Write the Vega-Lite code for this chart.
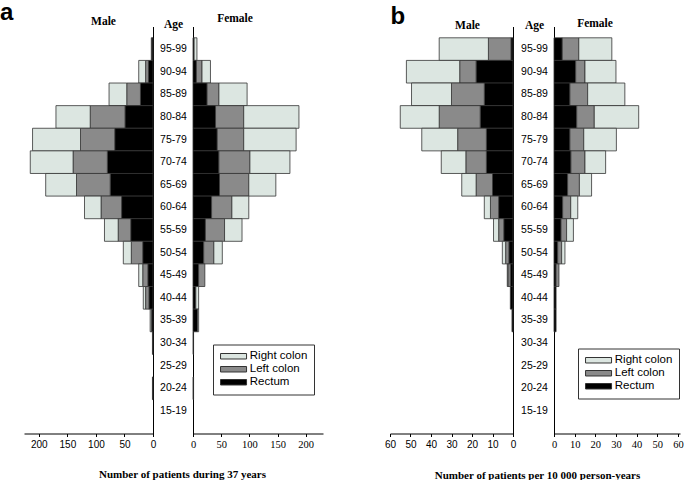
{
  "$schema": "https://vega.github.io/schema/vega-lite/v6.json",
  "background": "white",
  "padding": {"left": 0, "top": 0.5, "right": 0, "bottom": 0},
  "datasets": {
    "rows": [
      {"panel":"a","sex":"Male","age":"95-99","Rectum":2,"Left colon":1,"Right colon":0},
      {"panel":"a","sex":"Male","age":"90-94","Rectum":8,"Left colon":5,"Right colon":12},
      {"panel":"a","sex":"Male","age":"85-89","Rectum":22,"Left colon":24,"Right colon":31},
      {"panel":"a","sex":"Male","age":"80-84","Rectum":49,"Left colon":61,"Right colon":60},
      {"panel":"a","sex":"Male","age":"75-79","Rectum":67,"Left colon":60,"Right colon":84},
      {"panel":"a","sex":"Male","age":"70-74","Rectum":80,"Left colon":60,"Right colon":75},
      {"panel":"a","sex":"Male","age":"65-69","Rectum":75,"Left colon":59,"Right colon":54},
      {"panel":"a","sex":"Male","age":"60-64","Rectum":55,"Left colon":36,"Right colon":29},
      {"panel":"a","sex":"Male","age":"55-59","Rectum":39,"Left colon":22,"Right colon":24},
      {"panel":"a","sex":"Male","age":"50-54","Rectum":18,"Left colon":20,"Right colon":14},
      {"panel":"a","sex":"Male","age":"45-49","Rectum":9,"Left colon":9,"Right colon":7},
      {"panel":"a","sex":"Male","age":"40-44","Rectum":7,"Left colon":6,"Right colon":4},
      {"panel":"a","sex":"Male","age":"35-39","Rectum":3,"Left colon":0,"Right colon":2},
      {"panel":"a","sex":"Male","age":"30-34","Rectum":1,"Left colon":0,"Right colon":0},
      {"panel":"a","sex":"Male","age":"25-29","Rectum":0,"Left colon":0,"Right colon":0},
      {"panel":"a","sex":"Male","age":"20-24","Rectum":1,"Left colon":0,"Right colon":0},
      {"panel":"a","sex":"Male","age":"15-19","Rectum":0,"Left colon":0,"Right colon":0},
      {"panel":"a","sex":"Female","age":"95-99","Rectum":2,"Left colon":0,"Right colon":5},
      {"panel":"a","sex":"Female","age":"90-94","Rectum":6,"Left colon":10,"Right colon":15},
      {"panel":"a","sex":"Female","age":"85-89","Rectum":25,"Left colon":21,"Right colon":50},
      {"panel":"a","sex":"Female","age":"80-84","Rectum":40,"Left colon":50,"Right colon":98},
      {"panel":"a","sex":"Female","age":"75-79","Rectum":43,"Left colon":47,"Right colon":93},
      {"panel":"a","sex":"Female","age":"70-74","Rectum":46,"Left colon":55,"Right colon":71},
      {"panel":"a","sex":"Female","age":"65-69","Rectum":47,"Left colon":52,"Right colon":48},
      {"panel":"a","sex":"Female","age":"60-64","Rectum":33,"Left colon":36,"Right colon":30},
      {"panel":"a","sex":"Female","age":"55-59","Rectum":22,"Left colon":34,"Right colon":31},
      {"panel":"a","sex":"Female","age":"50-54","Rectum":19,"Left colon":18,"Right colon":15},
      {"panel":"a","sex":"Female","age":"45-49","Rectum":10,"Left colon":11,"Right colon":0},
      {"panel":"a","sex":"Female","age":"40-44","Rectum":5,"Left colon":0,"Right colon":5},
      {"panel":"a","sex":"Female","age":"35-39","Rectum":8,"Left colon":0,"Right colon":2},
      {"panel":"a","sex":"Female","age":"30-34","Rectum":1,"Left colon":0,"Right colon":0},
      {"panel":"a","sex":"Female","age":"25-29","Rectum":0,"Left colon":0,"Right colon":0},
      {"panel":"a","sex":"Female","age":"20-24","Rectum":1,"Left colon":0,"Right colon":0},
      {"panel":"a","sex":"Female","age":"15-19","Rectum":0,"Left colon":0,"Right colon":0},
      {"panel":"b","sex":"Male","age":"95-99","Rectum":1,"Left colon":11,"Right colon":24},
      {"panel":"b","sex":"Male","age":"90-94","Rectum":18,"Left colon":8,"Right colon":26},
      {"panel":"b","sex":"Male","age":"85-89","Rectum":14,"Left colon":16,"Right colon":19.5},
      {"panel":"b","sex":"Male","age":"80-84","Rectum":16,"Left colon":20,"Right colon":19},
      {"panel":"b","sex":"Male","age":"75-79","Rectum":13,"Left colon":14,"Right colon":17.5},
      {"panel":"b","sex":"Male","age":"70-74","Rectum":13,"Left colon":10,"Right colon":12},
      {"panel":"b","sex":"Male","age":"65-69","Rectum":10,"Left colon":8,"Right colon":7},
      {"panel":"b","sex":"Male","age":"60-64","Rectum":7,"Left colon":4,"Right colon":3},
      {"panel":"b","sex":"Male","age":"55-59","Rectum":4.5,"Left colon":2.5,"Right colon":2.5},
      {"panel":"b","sex":"Male","age":"50-54","Rectum":2,"Left colon":1.6,"Right colon":1.6},
      {"panel":"b","sex":"Male","age":"45-49","Rectum":1.3,"Left colon":1.2,"Right colon":0.3},
      {"panel":"b","sex":"Male","age":"40-44","Rectum":1.3,"Left colon":0,"Right colon":0},
      {"panel":"b","sex":"Male","age":"35-39","Rectum":0.5,"Left colon":0,"Right colon":0},
      {"panel":"b","sex":"Male","age":"30-34","Rectum":0,"Left colon":0,"Right colon":0},
      {"panel":"b","sex":"Male","age":"25-29","Rectum":0,"Left colon":0,"Right colon":0},
      {"panel":"b","sex":"Male","age":"20-24","Rectum":0,"Left colon":0,"Right colon":0},
      {"panel":"b","sex":"Male","age":"15-19","Rectum":0,"Left colon":0,"Right colon":0},
      {"panel":"b","sex":"Female","age":"95-99","Rectum":4,"Left colon":8,"Right colon":16},
      {"panel":"b","sex":"Female","age":"90-94","Rectum":10.5,"Left colon":4.5,"Right colon":15},
      {"panel":"b","sex":"Female","age":"85-89","Rectum":7.7,"Left colon":8.6,"Right colon":18},
      {"panel":"b","sex":"Female","age":"80-84","Rectum":11,"Left colon":8.5,"Right colon":21.5},
      {"panel":"b","sex":"Female","age":"75-79","Rectum":7.7,"Left colon":6.7,"Right colon":15.8},
      {"panel":"b","sex":"Female","age":"70-74","Rectum":8.2,"Left colon":6.8,"Right colon":10},
      {"panel":"b","sex":"Female","age":"65-69","Rectum":6.6,"Left colon":5.7,"Right colon":5.9},
      {"panel":"b","sex":"Female","age":"60-64","Rectum":4.2,"Left colon":3.9,"Right colon":3.4},
      {"panel":"b","sex":"Female","age":"55-59","Rectum":3.4,"Left colon":2.7,"Right colon":3.3},
      {"panel":"b","sex":"Female","age":"50-54","Rectum":1.8,"Left colon":1.9,"Right colon":1.6},
      {"panel":"b","sex":"Female","age":"45-49","Rectum":1,"Left colon":1.4,"Right colon":0},
      {"panel":"b","sex":"Female","age":"40-44","Rectum":1,"Left colon":0,"Right colon":0},
      {"panel":"b","sex":"Female","age":"35-39","Rectum":1,"Left colon":0,"Right colon":0},
      {"panel":"b","sex":"Female","age":"30-34","Rectum":0,"Left colon":0,"Right colon":0},
      {"panel":"b","sex":"Female","age":"25-29","Rectum":0,"Left colon":0,"Right colon":0},
      {"panel":"b","sex":"Female","age":"20-24","Rectum":0,"Left colon":0,"Right colon":0},
      {"panel":"b","sex":"Female","age":"15-19","Rectum":0,"Left colon":0,"Right colon":0}
    ]
  },
  "data": {"name": "rows"},
  "spacing": 61,
  "hconcat": [
    {
      "spacing": 40,
      "bounds": "flush",
      "resolve": {"scale": {"color": "independent"}, "legend": {"color": "independent"}},
      "hconcat": [
        {
          "width": 129, "height": 407,
          "title": {"text": "a", "anchor": "start", "frame": "group", "dx": -24, "offset": -10, "font": "Liberation Sans", "fontSize": 24, "fontWeight": "bold"},
          "transform": [
            {"filter": "datum.panel === 'a' && datum.sex === 'Male'"},
            {"fold": ["Rectum", "Left colon", "Right colon"], "as": ["type", "value"]},
            {"filter": "datum.value > 0"},
            {"calculate": "indexof(['Rectum','Left colon','Right colon'], datum.type)", "as": "ord"}
          ],
          "mark": {"type": "bar", "stroke": "#333", "strokeWidth": 0.8},
          "encoding": {
            "y": {"field": "age", "type": "ordinal",
                  "scale": {"domain": ["95-99","90-94","85-89","80-84","75-79","70-74","65-69","60-64","55-59","50-54","45-49","40-44","35-39","30-34","25-29","20-24","15-19"], "paddingInner": 0, "paddingOuter": 0.5},
                  "axis": {"orient": "right", "labels": false, "ticks": false, "title": "Male", "titleAngle": 0, "titleX": -50, "titleY": -2.3, "titleAlign": "center", "titleBaseline": "alphabetic", "titleFontSize": 11.5}},
            "x": {"field": "value", "type": "quantitative", "stack": "zero",
                  "scale": {"domain": [0, 226], "reverse": true, "nice": false},
                  "axis": {"values": [0, 50, 100, 150, 200], "labelFlush": false, "title": null}},
            "color": {"field": "type", "type": "nominal",
                      "scale": {"domain": ["Right colon", "Left colon", "Rectum"], "range": ["#dce6e1", "#8a8a8a", "#000000"]},
                      "legend": null},
            "order": {"field": "ord", "type": "quantitative"}
          }
        },
        {
          "width": 130, "height": 407,
          "title": {"text": "Female", "anchor": "middle", "frame": "group", "dx": -23, "offset": -6},
          "transform": [
            {"filter": "datum.panel === 'a' && datum.sex === 'Female'"},
            {"fold": ["Rectum", "Left colon", "Right colon"], "as": ["type", "value"]},
            {"filter": "datum.value > 0"},
            {"calculate": "indexof(['Rectum','Left colon','Right colon'], datum.type)", "as": "ord"}
          ],
          "mark": {"type": "bar", "stroke": "#333", "strokeWidth": 0.8},
          "encoding": {
            "y": {"field": "age", "type": "ordinal",
                  "scale": {"domain": ["95-99","90-94","85-89","80-84","75-79","70-74","65-69","60-64","55-59","50-54","45-49","40-44","35-39","30-34","25-29","20-24","15-19"], "paddingInner": 0, "paddingOuter": 0.5},
                  "axis": {"orient": "left", "ticks": false, "tickSize": 0, "labelAlign": "center", "labelPadding": 20, "labelFontSize": 10.5, "title": "Age", "titleAngle": 0, "titleX": -20, "titleY": 1, "titleAlign": "center", "titleBaseline": "alphabetic", "titleFontSize": 11.5}},
            "x": {"field": "value", "type": "quantitative", "stack": "zero",
                  "scale": {"domain": [0, 230.7], "nice": false},
                  "axis": {"values": [0, 50, 100, 150, 200], "labelFlush": false, "labelFont": "Liberation Serif", "labelFontSize": 10.5, "title": "Number of  patients  during 37 years", "titleX": -11, "titleY": 43.5, "titleAlign": "center", "titleBaseline": "alphabetic"}},
            "color": {"field": "type", "type": "nominal",
                      "scale": {"domain": ["Right colon", "Left colon", "Rectum"], "range": ["#dce6e1", "#8a8a8a", "#000000"]},
                      "legend": {"orient": "none", "legendX": 20, "legendY": 318}},
            "order": {"field": "ord", "type": "quantitative"}
          }
        }
      ]
    },
    {
      "spacing": 41,
      "bounds": "flush",
      "resolve": {"scale": {"color": "independent"}, "legend": {"color": "independent"}},
      "hconcat": [
        {
          "width": 123, "height": 407,
          "title": {"text": "b", "anchor": "start", "frame": "group", "dx": 0.5, "offset": -10, "font": "Liberation Sans", "fontSize": 24, "fontWeight": "bold"},
          "transform": [
            {"filter": "datum.panel === 'b' && datum.sex === 'Male'"},
            {"fold": ["Rectum", "Left colon", "Right colon"], "as": ["type", "value"]},
            {"filter": "datum.value > 0"},
            {"calculate": "indexof(['Rectum','Left colon','Right colon'], datum.type)", "as": "ord"}
          ],
          "mark": {"type": "bar", "stroke": "#333", "strokeWidth": 0.8},
          "encoding": {
            "y": {"field": "age", "type": "ordinal",
                  "scale": {"domain": ["95-99","90-94","85-89","80-84","75-79","70-74","65-69","60-64","55-59","50-54","45-49","40-44","35-39","30-34","25-29","20-24","15-19"], "paddingInner": 0, "paddingOuter": 0.5},
                  "axis": {"orient": "right", "labels": false, "ticks": false, "title": "Male", "titleAngle": 0, "titleX": -46, "titleY": 1.5, "titleAlign": "center", "titleBaseline": "alphabetic", "titleFontSize": 11.5}},
            "x": {"field": "value", "type": "quantitative", "stack": "zero",
                  "scale": {"domain": [0, 60], "reverse": true, "nice": false},
                  "axis": {"values": [0, 10, 20, 30, 40, 50, 60], "labelFlush": false, "title": null}},
            "color": {"field": "type", "type": "nominal",
                      "scale": {"domain": ["Right colon", "Left colon", "Rectum"], "range": ["#dce6e1", "#8a8a8a", "#000000"]},
                      "legend": null},
            "order": {"field": "ord", "type": "quantitative"}
          }
        },
        {
          "width": 126, "height": 407,
          "title": {"text": "Female", "anchor": "middle", "frame": "group", "dx": -22, "offset": -10},
          "transform": [
            {"filter": "datum.panel === 'b' && datum.sex === 'Female'"},
            {"fold": ["Rectum", "Left colon", "Right colon"], "as": ["type", "value"]},
            {"filter": "datum.value > 0"},
            {"calculate": "indexof(['Rectum','Left colon','Right colon'], datum.type)", "as": "ord"}
          ],
          "mark": {"type": "bar", "stroke": "#333", "strokeWidth": 0.8},
          "encoding": {
            "y": {"field": "age", "type": "ordinal",
                  "scale": {"domain": ["95-99","90-94","85-89","80-84","75-79","70-74","65-69","60-64","55-59","50-54","45-49","40-44","35-39","30-34","25-29","20-24","15-19"], "paddingInner": 0, "paddingOuter": 0.5},
                  "axis": {"orient": "left", "ticks": false, "tickSize": 0, "labelAlign": "center", "labelPadding": 20, "labelFontSize": 10.5, "title": "Age", "titleAngle": 0, "titleX": -20, "titleY": 1.5, "titleAlign": "center", "titleBaseline": "alphabetic", "titleFontSize": 11.5}},
            "x": {"field": "value", "type": "quantitative", "stack": "zero",
                  "scale": {"domain": [0, 61], "nice": false},
                  "axis": {"values": [0, 10, 20, 30, 40, 50, 60], "labelFlush": false, "labelFont": "Liberation Serif", "labelFontSize": 10.5, "title": "Number of  patients  per 10 000 person-years", "titleX": -17, "titleY": 45, "titleAlign": "center", "titleBaseline": "alphabetic"}},
            "color": {"field": "type", "type": "nominal",
                      "scale": {"domain": ["Right colon", "Left colon", "Rectum"], "range": ["#dce6e1", "#8a8a8a", "#000000"]},
                      "legend": {"orient": "none", "legendX": 24, "legendY": 322}},
            "order": {"field": "ord", "type": "quantitative"}
          }
        }
      ]
    }
  ],
  "resolve": {"scale": {"color": "independent"}, "legend": {"color": "independent"}},
  "config": {
    "view": {"stroke": null},
    "axis": {"grid": false, "domainColor": "#000", "domainWidth": 1, "tickColor": "#000", "tickSize": 3, "labelColor": "#000", "titleColor": "#000", "labelFont": "Liberation Sans", "labelFontSize": 10, "labelPadding": 3, "titleFont": "Liberation Serif", "titleFontWeight": "bold", "titleFontSize": 11},
    "title": {"font": "Liberation Serif", "fontWeight": "bold", "fontSize": 11.5, "color": "#000"},
    "legend": {"title": null, "strokeColor": "#333", "fillColor": "white", "padding": 6, "symbolType": "M-4.75,-1H4.75V1H-4.75Z", "symbolSize": 30, "symbolOffset": 8.8, "symbolStrokeColor": "#333", "symbolStrokeWidth": 1, "symbolOpacity": 1, "labelFont": "Liberation Sans", "labelFontSize": 11.5, "labelColor": "#000", "labelOffset": 10.5, "rowPadding": 0}
  }
}
